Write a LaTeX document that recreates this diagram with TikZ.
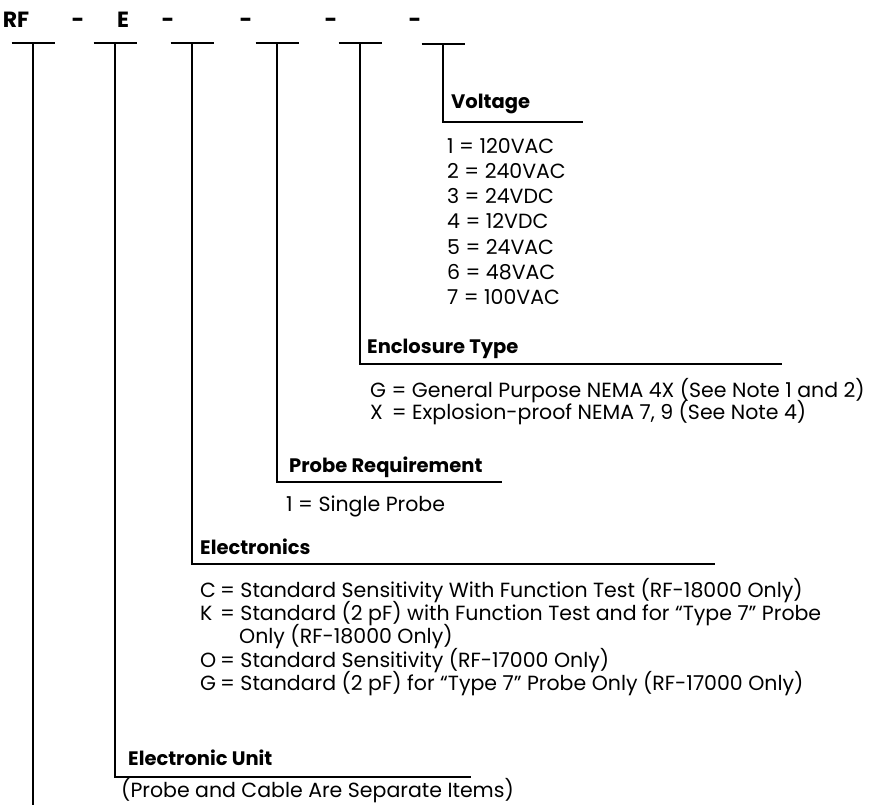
\documentclass[tikz,border=0pt]{standalone}
\usepackage{fontspec}
\setmainfont{Poppins}
\usetikzlibrary{positioning}
\tikzset{
  code/.style={anchor=base,font=\bfseries\fontsize{22}{24}\selectfont,inner sep=0pt},
  hd/.style={anchor=base west,font=\bfseries\fontsize{19.5}{22}\selectfont,inner sep=0pt},
  item/.style={anchor=base west,font=\fontsize{20.5}{23}\selectfont,inner sep=0pt},
  tbar/.style={line width=2.4pt},
  stem/.style={line width=2pt},
}

\begin{document}
\begin{tikzpicture}[x=1pt,y=-1pt]
  \useasboundingbox (0,0) rectangle (888,804);
  % model code
  \node[code] (codeRF) at (16,27) {RF};
  \node[code] (codeE) at (123,27) {E};
  \foreach \n/\x in {1/78,2/168,3/246,4/331,5/415}
    \node[code] (dash\n) at (\x,27) {-};
  % one T for each field
  \foreach \n/\x/\y in {1/33/43,2/115/43,3/192/43,4/277/43,5/360/43,6/443/44}
    \coordinate (f\n) at (\x,\y);
  \foreach \n in {1,...,6}
    \draw[tbar] ([xshift=-21.5pt]f\n) -- ([xshift=21.5pt]f\n);
  % ends of the heading rules
  \coordinate (endVolt) at (583,122);
  \coordinate (endEncl) at (782,364);
  \coordinate (endProbe) at (502,482);
  \coordinate (endElec) at (715,564);
  \coordinate (endUnit) at (471,777);
  \coordinate (endBase) at (33,806);
  \draw[stem] (f6) |- (endVolt);
  \draw[stem] (f5) |- (endEncl);
  \draw[stem] (f4) |- (endProbe);
  \draw[stem] (f3) |- (endElec);
  \draw[stem] (f2) |- (endUnit);
  \draw[stem] (f1) -- (endBase);
  % Voltage
  \node[hd] (hdVolt) at (451,108) {Voltage};
  \foreach \v [count=\i] in {120VAC,240VAC,24VDC,12VDC,24VAC,48VAC,100VAC}
    \node[item] (volt\i) at (447,{127.7+25.3*\i}) {\i{} = \v};
  % Enclosure Type
  \node[hd] (hdEncl) at (367,353) {Enclosure Type};
  \node[item] (enclG) at (370,397) {G = General Purpose NEMA 4X (See Note 1 and 2)};
  \node[item] (enclX) at (370,419) {X\, = Explosion-proof NEMA 7, 9 (See Note 4)};
  % Probe Requirement
  \node[hd] (hdProbe) at (289,472) {Probe Requirement};
  \node[item] (probe1) at (286,511) {1 = Single Probe};
  % Electronics
  \node[hd] (hdElec) at (200,554) {Electronics};
  \node[item] (elecC) at (200,597) {\makebox[20pt][l]{C}= Standard Sensitivity With Function Test (RF-18000 Only)};
  \node[item] (elecK) at (200,620) {\makebox[20pt][l]{K}= Standard (2 pF) with Function Test and for “Type 7” Probe};
  \node[item] (elecK2) at (239,643) {Only (RF-18000 Only)};
  \node[item] (elecO) at (200,667) {\makebox[20pt][l]{O}= Standard Sensitivity (RF-17000 Only)};
  \node[item] (elecG) at (200,690) {\makebox[20pt][l]{G}= Standard (2 pF) for “Type 7” Probe Only (RF-17000 Only)};
  % Electronic Unit
  \node[hd] (hdUnit) at (128,765) {Electronic Unit};
  \node[item] (unit1) at (121,797) {(Probe and Cable Are Separate Items)};
\end{tikzpicture}
\end{document}
